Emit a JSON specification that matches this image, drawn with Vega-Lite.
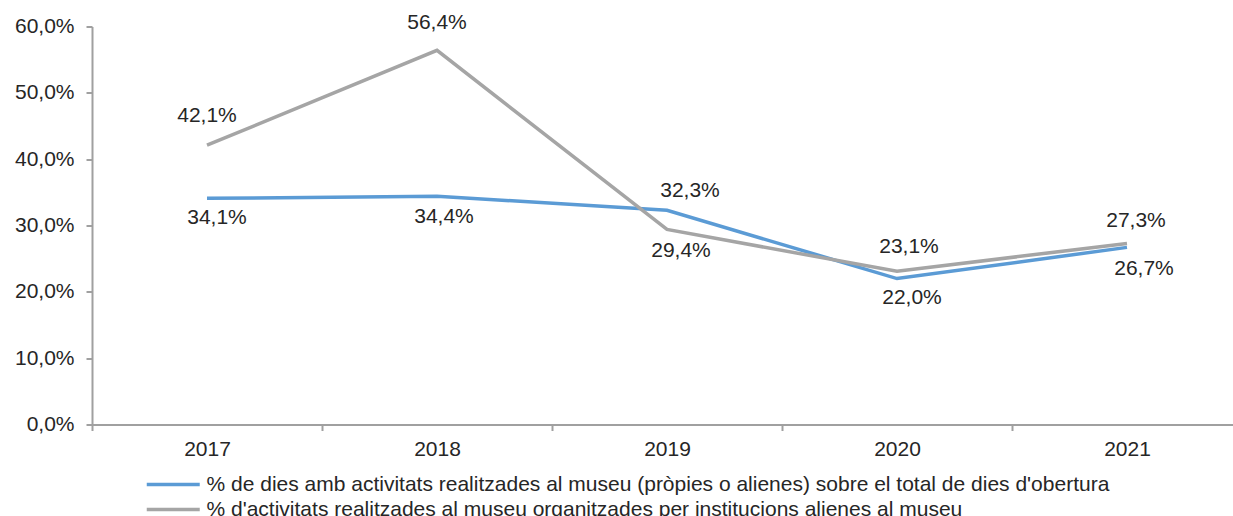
{
  "$schema": "https://vega.github.io/schema/vega-lite/v6.json",
  "width": 1141,
  "height": 398,
  "autosize": {"type": "none"},
  "padding": {"left": 92, "top": 26.5, "right": 0, "bottom": 91.5},
  "background": "white",
  "config": {
    "font": "Liberation Sans",
    "view": {"stroke": null},
    "axis": {"labelFont": "Liberation Sans", "labelFontSize": 21, "labelColor": "#262626", "domainColor": "#a0a0a0", "tickColor": "#a0a0a0", "domainWidth": 2, "tickWidth": 2, "grid": false, "title": null},
    "legend": {"labelFont": "Liberation Sans", "labelFontSize": 21, "labelColor": "#262626"}
  },
  "data": {
    "values": [
      {"any": "2017", "indicador": "% de dies amb activitats realitzades al museu (pròpies o alienes) sobre el total de dies d'obertura", "valor": 34.1},
      {"any": "2018", "indicador": "% de dies amb activitats realitzades al museu (pròpies o alienes) sobre el total de dies d'obertura", "valor": 34.4},
      {"any": "2019", "indicador": "% de dies amb activitats realitzades al museu (pròpies o alienes) sobre el total de dies d'obertura", "valor": 32.3},
      {"any": "2020", "indicador": "% de dies amb activitats realitzades al museu (pròpies o alienes) sobre el total de dies d'obertura", "valor": 22.0},
      {"any": "2021", "indicador": "% de dies amb activitats realitzades al museu (pròpies o alienes) sobre el total de dies d'obertura", "valor": 26.7},
      {"any": "2017", "indicador": "% d'activitats realitzades al museu organitzades per institucions alienes al museu", "valor": 42.1},
      {"any": "2018", "indicador": "% d'activitats realitzades al museu organitzades per institucions alienes al museu", "valor": 56.4},
      {"any": "2019", "indicador": "% d'activitats realitzades al museu organitzades per institucions alienes al museu", "valor": 29.4},
      {"any": "2020", "indicador": "% d'activitats realitzades al museu organitzades per institucions alienes al museu", "valor": 23.1},
      {"any": "2021", "indicador": "% d'activitats realitzades al museu organitzades per institucions alienes al museu", "valor": 27.3}
    ]
  },
  "encoding": {
    "x": {
      "field": "any", "type": "nominal",
      "scale": {"type": "band", "range": [0, 1150], "paddingInner": 0, "paddingOuter": 0},
      "axis": {"labelAngle": 0, "tickBand": "extent", "tickSize": 6, "labelPadding": 8, "orient": "bottom"}
    },
    "y": {
      "field": "valor", "type": "quantitative",
      "scale": {"domain": [0, 60], "nice": false, "zero": true},
      "axis": {"values": [0, 10, 20, 30, 40, 50, 60], "tickSize": 6, "labelPadding": 12, "labelExpr": "replace(format(datum.value, '.1f'), '.', ',') + '%'"}
    }
  },
  "layer": [
    {
      "mark": {"type": "line", "strokeWidth": 3.5, "strokeCap": "butt", "strokeJoin": "miter"},
      "encoding": {
        "color": {
          "field": "indicador", "type": "nominal",
          "scale": {
            "domain": ["% de dies amb activitats realitzades al museu (pròpies o alienes) sobre el total de dies d'obertura", "% d'activitats realitzades al museu organitzades per institucions alienes al museu"],
            "range": ["#5b9bd5", "#a5a5a5"]
          },
          "legend": {
            "title": null, "orient": "none", "legendX": 53, "legendY": 443,
            "direction": "vertical", "symbolType": "M-1,0H3", "symbolSize": 702, "symbolStrokeWidth": 3.5,
            "labelLimit": 1100, "labelOffset": 31.5, "rowPadding": -2.5, "padding": 0
          }
        }
      }
    },
    {
      "mark": {
        "type": "text", "fontSize": 21, "color": "#262626", "align": "center", "baseline": "middle",
        "text": {"expr": "replace(format(datum.valor, '.1f'), '.', ',') + '%'"},
        "dx": {"expr": "(datum.indicador[3] == 'e' ? {'2017': 10, '2018': 7, '2019': 23, '2020': 15, '2021': 17} : {'2017': 0, '2018': 0, '2019': 14, '2020': 12, '2021': 9})[datum.any]"},
        "dy": {"expr": "(datum.indicador[3] == 'e' ? {'2017': 20, '2018': 21, '2019': -19, '2020': 19, '2021': 22} : {'2017': -29, '2018': -27, '2019': 22, '2020': -24, '2021': -22})[datum.any]"}
      },
      "encoding": {}
    }
  ]
}
